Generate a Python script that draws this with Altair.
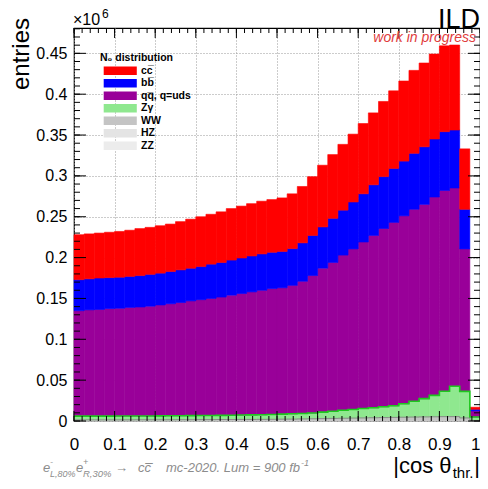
import altair as alt
import numpy as np
import pandas as pd

FONT = "Liberation Sans"

# ---------------- data (40 bins of |cos theta_thr|, entries in units of 1e6) ----------------
BIN_LO = [round(0.025 * i, 3) for i in range(40)]
BIN_W = 0.025

CC = [0.055, 0.055, 0.055, 0.0555, 0.056, 0.0565, 0.0575, 0.0575, 0.058, 0.058,
      0.059, 0.060, 0.061, 0.061, 0.062, 0.063, 0.0635, 0.064, 0.0645, 0.0645,
      0.0655, 0.067, 0.069, 0.072, 0.0755, 0.078, 0.0805, 0.083, 0.086, 0.088,
      0.092, 0.095, 0.098, 0.1015, 0.1025, 0.104, 0.105, 0.104, 0.074, 0.0025]
BB = [0.038, 0.038, 0.0385, 0.038, 0.038, 0.038, 0.0385, 0.039, 0.039, 0.0395,
      0.040, 0.040, 0.0405, 0.042, 0.0423, 0.043, 0.0435, 0.044, 0.0445, 0.0445,
      0.0445, 0.045, 0.047, 0.049, 0.0505, 0.054, 0.055, 0.0575, 0.059, 0.062,
      0.0635, 0.066, 0.067, 0.0685, 0.0705, 0.071, 0.072, 0.071, 0.0485, 0.002]
QQ = [0.129, 0.130, 0.1305, 0.1315, 0.1319, 0.1329, 0.1333, 0.1343, 0.1357, 0.1371,
      0.1385, 0.1404, 0.1418, 0.1432, 0.1448, 0.1469, 0.1487, 0.1505, 0.1523, 0.154,
      0.1546, 0.1572, 0.1618, 0.1683, 0.1762, 0.1822, 0.190, 0.1965, 0.2038, 0.2108,
      0.2181, 0.2245, 0.230, 0.235, 0.2378, 0.2428, 0.2458, 0.2427, 0.1743, 0.0075]
ZG = [0.0046, 0.0046, 0.0046, 0.0046, 0.0047, 0.0047, 0.0047, 0.0047, 0.0048, 0.0049,
      0.0049, 0.0050, 0.0050, 0.0051, 0.0051, 0.0053, 0.0054, 0.0056, 0.0057, 0.0059,
      0.0062, 0.0065, 0.0067, 0.0070, 0.0079, 0.0087, 0.0097, 0.0105, 0.0115, 0.0123,
      0.0133, 0.0142, 0.0165, 0.0193, 0.0223, 0.0262, 0.0310, 0.0371, 0.0325, 0.0042]
WW = [0.0012, 0.0012, 0.0012, 0.0012, 0.0012, 0.0012, 0.0013, 0.0013, 0.0013, 0.0013,
      0.0014, 0.0014, 0.0015, 0.0015, 0.0016, 0.0016, 0.0017, 0.0017, 0.0018, 0.0019,
      0.0020, 0.0021, 0.0023, 0.0025, 0.0027, 0.0029, 0.0031, 0.0033, 0.0035, 0.0037,
      0.0039, 0.0041, 0.0043, 0.0045, 0.0047, 0.0048, 0.0050, 0.0050, 0.0035, 0.0006]
HZ = [0.0001, 0.0001, 0.0001, 0.0001, 0.0001, 0.0001, 0.0001, 0.0001, 0.0001, 0.0001,
      0.0001, 0.0001, 0.0001, 0.0001, 0.0001, 0.0001, 0.0001, 0.0001, 0.0001, 0.0001,
      0.00012, 0.00012, 0.00012, 0.00013, 0.00013, 0.00014, 0.00014, 0.00015, 0.00015, 0.00016,
      0.00016, 0.00017, 0.00017, 0.00018, 0.00018, 0.00019, 0.00019, 0.0002, 0.00015, 0.00002]
ZZ = [0.0001, 0.0001, 0.0001, 0.0001, 0.0001, 0.0001, 0.0001, 0.0001, 0.0001, 0.0001,
      0.0001, 0.0001, 0.0001, 0.0001, 0.0001, 0.0001, 0.0001, 0.0001, 0.0001, 0.0001,
      0.00011, 0.00011, 0.00011, 0.00012, 0.00012, 0.00012, 0.00013, 0.00013, 0.00013, 0.00014,
      0.00014, 0.00014, 0.00015, 0.00015, 0.00015, 0.00016, 0.00016, 0.00016, 0.00012, 0.00002]

LABELS = ["cc\u0305", "bb\u0305", "qq\u0305, q=uds", "Z\u03b3", "WW", "HZ", "ZZ"]
SERIES = [CC, BB, QQ, ZG, WW, HZ, ZZ]
FILLS = ["#ff0000", "#0000ff", "#990099", "#8fe88f", "#c4c4c4", "#e4e4e4", "#ececec"]

X_MAJOR = [0, 0.1, 0.2, 0.3, 0.4, 0.5, 0.6, 0.7, 0.8, 0.9, 1.0]
X_MINOR = [round(0.02 * i, 2) for i in range(51)]
Y_MAJOR = [0, 0.05, 0.1, 0.15, 0.2, 0.25, 0.3, 0.35, 0.4, 0.45]
Y_MINOR = [round(0.01 * i, 2) for i in range(49)]

# ---------------- build stacked table (bottom-up: ZZ, HZ, WW, Zg, qq, bb, cc) ----------------
rows = []
cum = np.zeros(len(BIN_LO))
tops = {}
for lab, vals in reversed(list(zip(LABELS, SERIES))):
    v = np.array(vals)
    for i, lo in enumerate(BIN_LO):
        rows.append({"process": lab, "lo": lo, "hi": round(lo + BIN_W, 3),
                     "y0": float(cum[i]), "y1": float(cum[i] + v[i])})
    cum = cum + v
    tops[lab] = cum.copy()
df = pd.DataFrame(rows)

def outline(lab):
    t = list(tops[lab])
    return pd.DataFrame({"x": BIN_LO + [1.0], "y": t + [t[-1]]})

W, H = 406, 393
xs = alt.Scale(domain=[0, 1], nice=False, zero=False)
ys = alt.Scale(domain=[0, 0.481], nice=False)

x_axis = alt.Axis(values=X_MAJOR, format="~g", title=None, ticks=False, tickSize=0, domain=False,
                  labelFontSize=17, labelFont=FONT, labelPadding=28, labelBaseline="alphabetic",
                  labelAlign={"condition": {"test": "datum.value >= 1", "value": "right"},
                              "value": "center"},
                  labelFlush=False, labelOverlap=False, labelColor="black",
                  grid=True, gridDash=[1, 2], gridColor="#999999", gridWidth=1)
y_axis = alt.Axis(values=Y_MAJOR, format="~g", title=None, ticks=False, tickSize=0, domain=False,
                  labelFontSize=16, labelFont=FONT, labelPadding=7, labelFlush=False,
                  labelOverlap=False, labelColor="black",
                  grid=True, gridDash=[1, 2], gridColor="#999999", gridWidth=1)

color = alt.Color(
    "process:N",
    scale=alt.Scale(domain=LABELS, range=FILLS),
    legend=alt.Legend(
        title="N\u2080 distribution", orient="none", legendX=26, legendY=25,
        symbolType="M-3.9,-1H3.9V1H-3.9Z", symbolSize=72, symbolStrokeWidth=0,
        symbolOffset=15, labelOffset=15.5, rowPadding=1.5, titlePadding=2, padding=0,
        titleFontSize=10.5, titleFontWeight="bold", titleFont=FONT, titleColor="black",
        labelFontSize=10.5, labelFontWeight="bold", labelFont=FONT, labelColor="black",
        symbolOpacity=1,
    ),
)
stroke = alt.Stroke("process:N", scale=alt.Scale(domain=LABELS, range=FILLS), legend=None)

bars = alt.Chart(df).mark_rect(strokeWidth=0.6, opacity=1).encode(
    x=alt.X("lo:Q", scale=xs, axis=x_axis), x2="hi:Q",
    y=alt.Y("y0:Q", scale=ys, axis=y_axis), y2="y1:Q",
    color=color, stroke=stroke,
)

green_line = alt.Chart(outline("Z\u03b3")).mark_line(interpolate="step-after", color="#1ec81e",
                                                        strokeWidth=1.6).encode(
    x=alt.X("x:Q", scale=xs, axis=x_axis), y=alt.Y("y:Q", scale=ys, axis=y_axis))
ww_line = alt.Chart(outline("WW")).mark_line(interpolate="step-after", color="#8a8a8a",
                                             strokeWidth=1).encode(
    x=alt.X("x:Q", scale=xs, axis=x_axis), y=alt.Y("y:Q", scale=ys, axis=y_axis))

def yticks(vals, length):
    d = pd.DataFrame({"y": vals})
    left = alt.Chart(d).mark_rule(color="black", strokeWidth=1).encode(
        y=alt.Y("y:Q", scale=ys, axis=y_axis), x=alt.value(0), x2=alt.value(length))
    right = alt.Chart(d).mark_rule(color="black", strokeWidth=1).encode(
        y=alt.Y("y:Q", scale=ys, axis=y_axis), x=alt.value(W), x2=alt.value(W - length))
    return [left, right]

def xticks(vals, length):
    d = pd.DataFrame({"x": vals})
    bottom = alt.Chart(d).mark_rule(color="black", strokeWidth=1).encode(
        x=alt.X("x:Q", scale=xs, axis=x_axis), y=alt.value(H), y2=alt.value(H - length))
    top = alt.Chart(d).mark_rule(color="black", strokeWidth=1).encode(
        x=alt.X("x:Q", scale=xs, axis=x_axis), y=alt.value(0), y2=alt.value(length))
    return [bottom, top]

ONE = pd.DataFrame({"k": [0]})

def txt(text, x, y, size, align="left", color="black", style="normal", angle=0,
        baseline="alphabetic", weight="normal"):
    return alt.Chart(ONE).mark_text(
        text=text, align=align, baseline=baseline, fontSize=size, fontStyle=style,
        fontWeight=weight, color=color, angle=angle, font=FONT,
    ).encode(x=alt.value(x), y=alt.value(y))

GRAY = "#8c8c8c"
texts = [
    txt("\u00d710", -1, -3, 16),
    txt("6", 28, -10, 12),
    txt("ILD", 406, 0, 27, align="right"),
    txt("work in progress", 402, 13.5, 14, align="right", color="#e03c3c", style="italic"),
    txt("entries", -45, -10, 24, align="right", angle=270),
    # x-axis title |cos theta_thr.|
    txt("|cos \u03b8", 377.5, 445, 22, align="right"),
    txt("thr.", 399.5, 450, 15, align="right"),
    txt("|", 406, 445, 22, align="right"),
    # bottom annotation
    txt("e", -31, 444, 13, color=GRAY, style="italic"),
    txt("-", -24, 437, 9, color=GRAY, style="italic"),
    txt("L,80%", -24, 449, 9, color=GRAY, style="italic"),
    txt("e", 2, 444, 13, color=GRAY, style="italic"),
    txt("+", 9, 437, 9, color=GRAY, style="italic"),
    txt("R,30%", 9, 449, 9.5, color=GRAY, style="italic"),
    txt("\u2192", 41, 444, 13, color=GRAY),
    txt("cc\u0305", 64, 444, 13, color=GRAY, style="italic"),
    txt("mc-2020. Lum = 900 fb", 92, 444, 13, color=GRAY, style="italic"),
    txt("-1", 227, 438, 9, color=GRAY, style="italic"),
]

layers = [bars, ww_line, green_line]
layers += yticks(Y_MINOR, 6) + yticks(Y_MAJOR, 12)
layers += xticks(X_MINOR, 5) + xticks(X_MAJOR, 10)
layers += texts

chart = alt.layer(*layers).properties(
    width=W, height=H,
    padding={"left": 66, "top": 20, "right": 0, "bottom": 60},
    autosize=alt.AutoSizeParams(type="none"),
    background="white",
).configure_view(stroke="black", strokeWidth=1.2)

chart.save("out.html", embed_options={"renderer": "svg", "actions": False})
